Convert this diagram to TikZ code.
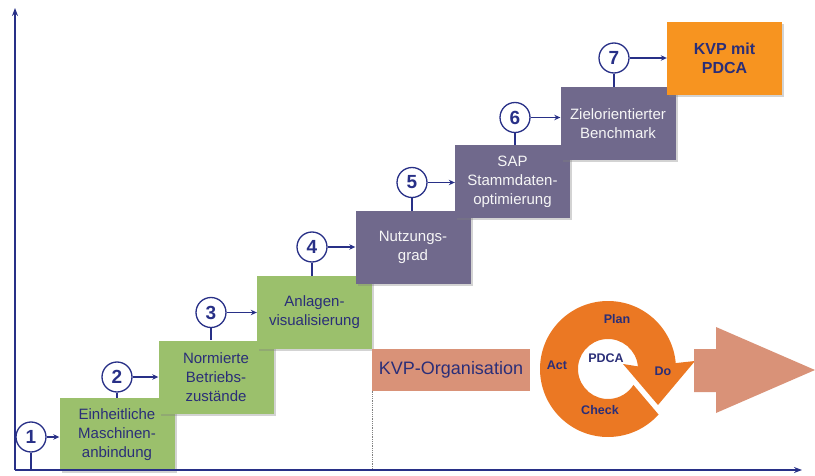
\documentclass[tikz,border=0pt]{standalone}
\usepackage{fontspec}
\setmainfont{Liberation Sans}
\usetikzlibrary{arrows.meta,calc,shadows}
\definecolor{navy}{RGB}{40,48,135}
\definecolor{textblue}{RGB}{42,46,120}
\definecolor{boxgreen}{RGB}{155,192,108}
\definecolor{boxpurple}{RGB}{112,105,140}
\definecolor{boxorange}{RGB}{247,148,32}
\definecolor{ringorange}{RGB}{235,120,35}
\definecolor{salmon}{RGB}{217,146,120}
\begin{document}
\begin{tikzpicture}[x=1pt,y=-1pt,
  stepbox/.style={minimum width=115pt, minimum height=73pt, inner sep=2pt, align=center,
    font=\fontsize{15}{19}\selectfont,
    drop shadow={shadow xshift=2pt, shadow yshift=-2pt, opacity=0.35, fill=gray}},
  greenbox/.style={stepbox, fill=boxgreen, text=textblue},
  purplebox/.style={stepbox, fill=boxpurple, text=white!93!gray},
  orangebox/.style={stepbox, fill=boxorange, text=textblue, font=\fontsize{16}{19}\selectfont\bfseries},
  numcircle/.style={circle, draw=navy, line width=1.3pt, fill=white, minimum size=30pt, inner sep=0pt,
    font=\fontsize{19}{19}\selectfont\bfseries, text=navy},
  conn/.style={draw=navy, line width=1.4pt},
  arr/.style={conn, -{Stealth[length=6pt,width=5.5pt]}},
  axis/.style={draw=navy, line width=1.8pt, -{Stealth[length=8pt,width=6pt]}},
  pdcalabel/.style={font=\fontsize{12.5}{13}\selectfont\bfseries, text=textblue, inner sep=0pt}
]
\useasboundingbox (0,0) rectangle (815,476);

% step boxes
\node[greenbox] (b1) at (117,434.5) {Einheitliche\\Maschinen-\\anbindung};
\node[greenbox] (b2) at (216,377) {Normierte\\Betriebs-\\zustände};
\node[greenbox] (b3) at (314.5,312.5) {Anlagen-\\visualisierung};
\node[purplebox] (b4) at (413,247.5) {Nutzungs-\\grad};
\node[purplebox] (b5) at (512.5,182) {SAP\\Stammdaten-\\optimierung};
\node[purplebox] (b6) at (618,124) {Zielorientierter\\Benchmark};
\node[orangebox] (b7) at (724.5,58.5) {KVP mit\\PDCA};

% axes
\coordinate (O) at (15,470);
\coordinate (ytop) at (15,8);
\coordinate (xend) at (802,470);

% dotted separator
\draw[gray, densely dotted, line width=0.8pt] (b3.south east) -- (b3.south east |- O);

% number circles
\node[numcircle] (c1) at (31,437) {1};
\node[numcircle] (c2) at (117,377) {2};
\node[numcircle] (c3) at (211,312.5) {3};
\node[numcircle] (c4) at (312,247) {4};
\node[numcircle] (c5) at (412,182.5) {5};
\node[numcircle] (c6) at (515,117.5) {6};
\node[numcircle] (c7) at (614,58) {7};

% vertical stems
\draw[conn] (c1.south) -- (c1.south |- O);
\draw[conn] (c2.south) -- (c2.south |- b1.north);
\draw[conn] (c3.south) -- (c3.south |- b2.north);
\draw[conn] (c4.south) -- (c4.south |- b3.north);
\draw[conn] (c5.south) -- (c5.south |- b4.north);
\draw[conn] (c6.south) -- (c6.south |- b5.north);
\draw[conn] (c7.south) -- (c7.south |- b6.north);

% horizontal arrows
\draw[arr] (c1.east) -- (c1.east -| b1.west);
\draw[arr] (c2.east) -- (c2.east -| b2.west);
\draw[arr] (c3.east) -- (c3.east -| b3.west);
\draw[arr] (c4.east) -- (c4.east -| b4.west);
\draw[arr] (c5.east) -- (c5.east -| b5.west);
\draw[arr] (c6.east) -- (c6.east -| b6.west);
\draw[arr] (c7.east) -- (c7.east -| b7.west);

% axes drawn on top
\draw[axis] (O) -- (ytop);
\draw[axis] (O) -- (xend);

% KVP organisation bar
\node[fill=salmon, minimum width=158pt, minimum height=42pt, inner sep=0pt,
  font=\fontsize{18}{18}\selectfont, text=textblue] (kvp) at (451,370) {KVP-Organisation};

% PDCA ring
\coordinate (pc) at (608,369);
\fill[ringorange] ($(pc)+(42:68)$) arc[start angle=42, end angle=355, radius=68]
  -- (695,361) -- (658,405) -- (623,364) -- ($(pc)+(355:30)$)
  arc[start angle=355, end angle=32, radius=30] -- cycle;
\node[pdcalabel] (plan) at (617,319) {Plan};
\node[pdcalabel] (act) at (557,365) {Act};
\node[pdcalabel] (pdca) at (606,358) {PDCA};
\node[pdcalabel] (do) at (663,371) {Do};
\node[pdcalabel] (check) at (600,410) {Check};

% big arrow
\fill[salmon] (694,349) -- (716,349) -- (716,327) -- (815,370) -- (716,413) -- (716,392) -- (694,392) -- cycle;
\end{tikzpicture}
\end{document}
